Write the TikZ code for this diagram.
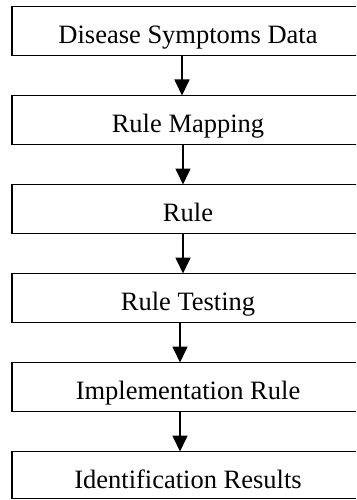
\documentclass[tikz,border=0pt]{standalone}
\usepackage{fontspec}
\setmainfont{Liberation Serif}
\usetikzlibrary{positioning,arrows.meta}

\begin{document}
\begin{tikzpicture}[
  font=\fontsize{26.5pt}{31pt}\selectfont,
  stage/.style={draw, line width=1.7pt, minimum width=352pt,
                text height=37pt, text depth=12pt, inner sep=0pt,
                outer sep=0pt, align=center},
  flow/.style={-{Triangle[length=16pt, width=15pt]}, line width=1.7pt},
  node distance=40pt,
]
  \useasboundingbox (0,0) rectangle (356pt,-500pt);
  \clip (0,0) rectangle (356pt,-500pt);

  \node[stage] (data) at (188pt,-31pt) {Disease Symptoms Data};
  \node[stage, below=of data] (mapping) {Rule Mapping};
  \node[stage, below=of mapping] (rule) {Rule};
  \node[stage, below=of rule] (testing) {Rule Testing};
  \node[stage, below=of testing] (impl) {Implementation Rule};
  % last box sits on the lower edge
  \node[stage, text depth=10pt, below=of impl] (results) {Identification Results};

  \draw[flow] ([xshift=-6pt]data.south) -- ([xshift=-6pt]mapping.north);
  \draw[flow] ([xshift=-5pt]mapping.south) -- ([xshift=-5pt]rule.north);
  \draw[flow] ([xshift=-5pt]rule.south) -- ([xshift=-5pt]testing.north);
  \draw[flow] ([xshift=-8pt]testing.south) -- ([xshift=-8pt]impl.north);
  \draw[flow] ([xshift=-8pt]impl.south) -- ([xshift=-8pt]results.north);
\end{tikzpicture}
\end{document}
